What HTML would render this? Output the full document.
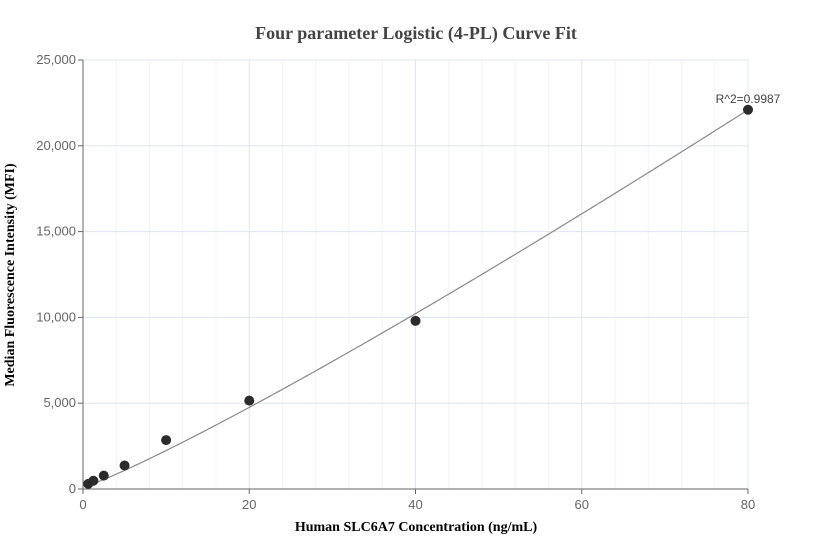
<!DOCTYPE html>
<html><head><meta charset="utf-8"><style>
body{margin:0;background:#fff;}
svg{display:block;font-family:"Liberation Sans",sans-serif;}
</style></head><body>
<svg id="chart" width="832" height="560">
<text x="416" y="39" text-anchor="middle" font-family="Liberation Serif" font-weight="bold" font-size="18" fill="#444">Four parameter Logistic (4-PL) Curve Fit</text>
<text x="416" y="531" text-anchor="middle" font-family="Liberation Serif" font-weight="bold" font-size="14" fill="#000">Human SLC6A7 Concentration (ng/mL)</text>
<text transform="translate(14,275) rotate(-90)" text-anchor="middle" font-family="Liberation Serif" font-weight="bold" font-size="14" fill="#000">Median Fluorescence Intensity (MFI)</text>
<g id="grid"></g><g id="axes"></g><g id="curve"></g><g id="pts"></g>
</svg>
<script>
const xTicks=[0,20,40,60,80];
const xGrid=[4,8,12,16,24,28,32,36,44,48,52,56,64,68,72,76];
const yTicks=[0,5000,10000,15000,20000,25000];
const yTickLabels=["0","5,000","10,000","15,000","20,000","25,000"];
const concentrations=[0.625,1.25,2.5,5,10,20,40,80];
const mfiValues=[300,480,780,1370,2850,5150,9800,22100];
const fitParams=[100,1.12,162.5];
const r2Label="R^2=0.9987";
const NS="http://www.w3.org/2000/svg";
const X0=83,X1=748,Y0=489,Y1=60;
const sx=v=>X0+(v-0)/(80-0)*(X1-X0);
const sy=v=>Y0-(v/25000)*(Y0-Y1);
function mk(p,t,a){const e=document.createElementNS(NS,t);for(const k in a)e.setAttribute(k,a[k]);p.appendChild(e);return e;}
const g=document.getElementById('grid'),ax=document.getElementById('axes'),cv=document.getElementById('curve'),pt=document.getElementById('pts');
xGrid.forEach(v=>{const l=mk(g,'line',{x1:sx(v),x2:sx(v),y1:Y1,y2:Y0,stroke:'#f1f3f9','stroke-width':1});

});
xTicks.forEach(v=>{if(v>0){const l=mk(g,'line',{x1:sx(v),x2:sx(v),y1:Y1,y2:Y0,stroke:'#dfe5f2','stroke-width':1});

}
mk(ax,'line',{x1:sx(v),x2:sx(v),y1:Y0,y2:Y0+5,stroke:'#666'});
const t=mk(ax,'text',{x:sx(v),y:Y0+20,'text-anchor':'middle','font-size':13,fill:'#666'});t.textContent=v;

});
yTicks.forEach((v,i)=>{if(v>0){const l=mk(g,'line',{x1:X0,x2:X1,y1:sy(v),y2:sy(v),stroke:'#dfe5f2'});

}
mk(ax,'line',{x1:X0-5,x2:X0,y1:sy(v),y2:sy(v),stroke:'#666'});
const t=mk(ax,'text',{x:X0-7,y:sy(v)+4,'text-anchor':'end','font-size':13,fill:'#666'});t.textContent=yTickLabels[i];

});
const ya=mk(ax,'line',{x1:X0,x2:X0,y1:Y1,y2:Y0,stroke:'#666'});


const xa=mk(ax,'line',{x1:X0,x2:X1,y1:Y0,y2:Y0,stroke:'#666'});


const f=x=>fitParams[0]+fitParams[2]*Math.pow(x,fitParams[1]);
let d='';const xmin=concentrations[0],xmax=concentrations[concentrations.length-1];
for(let i=0;i<=200;i++){const x=xmin+(xmax-xmin)*i/200;d+=(i?'L':'M')+sx(x).toFixed(2)+','+sy(f(x)).toFixed(2);}
const p=mk(cv,'path',{d:d,fill:'none',stroke:'#888','stroke-width':1.2});


concentrations.forEach((c,i)=>{const e=mk(pt,'circle',{cx:sx(c),cy:sy(mfiValues[i]),r:5,fill:'#2b2b2b'});

});
const n=concentrations.length-1;
const lb=mk(pt,'text',{x:sx(concentrations[n]),y:sy(mfiValues[n])-7,'text-anchor':'middle','font-size':12,fill:'#444'});lb.textContent=r2Label;


</script>
</body></html>
